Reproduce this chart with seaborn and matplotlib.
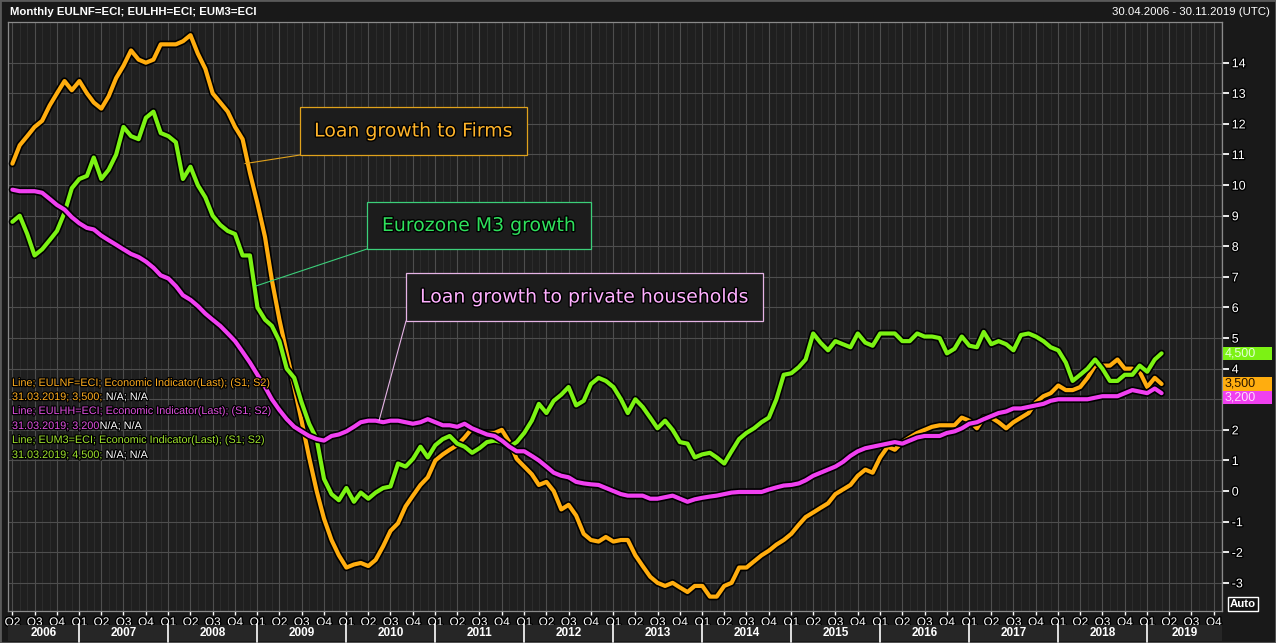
import numpy as np
import pandas as pd
import matplotlib
matplotlib.use("Agg")
import matplotlib.pyplot as plt
import matplotlib.dates as mdates
import matplotlib.patheffects as pe
import matplotlib.transforms as mtransforms
from matplotlib.patches import Rectangle
from matplotlib.lines import Line2D
from matplotlib.ticker import FuncFormatter, FixedLocator
import seaborn as sns

# ---------------------------------------------------------------
# data (monthly, Apr 2006 - Mar 2019)
# ---------------------------------------------------------------
months = pd.date_range("2006-04-01", "2019-03-01", freq="MS")

firms = [10.7, 11.3, 11.6, 11.9, 12.1, 12.6, 13.0, 13.4, 13.1, 13.4, 13.0, 12.7,
         12.5, 12.9, 13.5, 13.9, 14.4, 14.1, 14.0, 14.1, 14.6, 14.6, 14.6, 14.7,
         14.9, 14.3, 13.8, 13.0, 12.7, 12.4, 11.9, 11.5, 10.4, 9.4, 8.3, 6.9,
         5.6, 4.5, 3.4, 2.3, 1.1, 0.0, -0.9, -1.6, -2.1, -2.5, -2.4, -2.35,
         -2.45, -2.25, -1.8, -1.3, -1.05, -0.5, -0.15, 0.2, 0.45, 1.0, 1.2, 1.35,
         1.5, 1.75, 2.05, 1.9, 1.9, 1.9, 2.0, 1.6, 1.05, 0.8, 0.55, 0.2,
         0.3, 0.0, -0.6, -0.45, -0.8, -1.4, -1.6, -1.65, -1.5, -1.65, -1.6, -1.6,
         -2.1, -2.45, -2.8, -3.0, -3.1, -3.0, -3.15, -3.3, -3.1, -3.1, -3.45, -3.45,
         -3.1, -3.0, -2.5, -2.5, -2.3, -2.1, -1.95, -1.75, -1.6, -1.4, -1.1, -0.85,
         -0.7, -0.55, -0.4, -0.1, 0.05, 0.2, 0.5, 0.7, 0.6, 1.1, 1.45, 1.35,
         1.6, 1.75, 1.9, 2.0, 2.1, 2.15, 2.15, 2.15, 2.4, 2.3, 2.05, 2.4,
         2.4, 2.25, 2.05, 2.25, 2.4, 2.55, 2.9, 3.1, 3.2, 3.45, 3.3, 3.3,
         3.4, 3.7, 4.1, 4.1, 4.1, 4.3, 4.0, 4.0, 3.9, 3.4, 3.7, 3.5]

m3 = [8.8, 9.0, 8.4, 7.7, 7.9, 8.2, 8.5, 9.1, 9.9, 10.2, 10.3, 10.9,
      10.2, 10.5, 11.0, 11.9, 11.6, 11.5, 12.2, 12.4, 11.7, 11.6, 11.4, 10.2,
      10.6, 10.0, 9.6, 9.0, 8.7, 8.5, 8.4, 7.7, 7.7, 6.0, 5.6, 5.4,
      4.9, 4.0, 3.7, 2.9, 2.2, 1.7, 0.4, -0.1, -0.3, 0.1, -0.35, -0.05,
      -0.25, -0.05, 0.1, 0.15, 0.9, 0.8, 1.05, 1.45, 1.1, 1.5, 1.7, 1.8,
      1.55, 1.45, 1.25, 1.4, 1.6, 1.65, 1.6, 1.45, 1.6, 1.9, 2.3, 2.85,
      2.55, 2.95, 3.15, 3.4, 2.8, 2.95, 3.5, 3.7, 3.6, 3.4, 3.0, 2.55,
      3.0, 2.75, 2.4, 2.05, 2.3, 2.0, 1.6, 1.55, 1.1, 1.2, 1.25, 1.1,
      0.9, 1.3, 1.7, 1.9, 2.05, 2.25, 2.4, 3.0, 3.8, 3.85, 4.05, 4.3,
      5.15, 4.85, 4.6, 4.9, 4.8, 4.7, 5.15, 4.85, 4.75, 5.15, 5.15, 5.15,
      4.9, 4.9, 5.15, 5.05, 5.05, 5.0, 4.5, 4.65, 5.05, 4.75, 4.7, 5.2,
      4.8, 4.9, 4.8, 4.6, 5.1, 5.15, 5.05, 4.9, 4.7, 4.6, 4.2, 3.6,
      3.8, 4.0, 4.3, 4.0, 3.6, 3.6, 3.8, 3.8, 4.1, 3.9, 4.3, 4.5]

households = [9.85, 9.8, 9.8, 9.8, 9.75, 9.55, 9.35, 9.2, 8.95, 8.75, 8.6, 8.55,
              8.35, 8.2, 8.05, 7.9, 7.75, 7.65, 7.5, 7.3, 7.05, 6.95, 6.7, 6.4,
              6.25, 6.05, 5.8, 5.6, 5.4, 5.15, 4.9, 4.55, 4.2, 3.8, 3.4, 3.0,
              2.65, 2.35, 2.1, 1.95, 1.8, 1.7, 1.65, 1.8, 1.85, 1.95, 2.1, 2.25,
              2.3, 2.3, 2.25, 2.3, 2.3, 2.25, 2.2, 2.25, 2.35, 2.25, 2.15, 2.15,
              2.1, 2.2, 2.05, 1.95, 1.85, 1.8, 1.65, 1.45, 1.3, 1.3, 1.15, 1.0,
              0.8, 0.6, 0.5, 0.45, 0.3, 0.25, 0.22, 0.2, 0.1, 0.0, -0.1, -0.15,
              -0.15, -0.15, -0.25, -0.25, -0.2, -0.15, -0.25, -0.35, -0.27, -0.22, -0.18, -0.15,
              -0.1, -0.05, -0.03, -0.03, -0.03, -0.03, 0.05, 0.12, 0.18, 0.2, 0.25, 0.35,
              0.5, 0.6, 0.7, 0.8, 0.95, 1.15, 1.3, 1.4, 1.45, 1.5, 1.55, 1.6,
              1.55, 1.65, 1.75, 1.8, 1.8, 1.8, 1.9, 1.95, 2.05, 2.2, 2.25, 2.35,
              2.45, 2.55, 2.6, 2.7, 2.7, 2.75, 2.8, 2.85, 2.95, 3.0, 3.0, 3.0,
              3.0, 3.0, 3.05, 3.1, 3.1, 3.1, 3.2, 3.3, 3.25, 3.2, 3.35, 3.2]

series_names = ["EULNF=ECI", "EUM3=ECI", "EULHH=ECI"]
colors = {"EULNF=ECI": "#ffad0f", "EULHH=ECI": "#f040f0", "EUM3=ECI": "#7cf214"}

df = pd.concat([
    pd.DataFrame({"date": months, "value": firms, "series": "EULNF=ECI"}),
    pd.DataFrame({"date": months, "value": m3, "series": "EUM3=ECI"}),
    pd.DataFrame({"date": months, "value": households, "series": "EULHH=ECI"}),
])

# ---------------------------------------------------------------
# figure
# ---------------------------------------------------------------
W, H = 1276, 643
sns.set_theme(style="dark")
plt.rcParams["font.family"] = ["DejaVu Sans"]

fig = plt.figure(figsize=(W / 100, H / 100), dpi=100, facecolor="#191919")
ax = fig.add_axes([8 / W, 1 - 611 / H, (1222 - 8) / W, (611 - 22) / H])
ax.set_facecolor("#1f1f1f")

def fx(x):
    return x / W

def fy(y):
    return 1 - y / H

sns.lineplot(data=df, x="date", y="value", hue="series", hue_order=series_names,
             palette=colors, linewidth=3.0, legend=False, ax=ax, zorder=3)
for ln in ax.lines:
    ln.set_path_effects([pe.Stroke(linewidth=5.4, foreground="#000000"), pe.Normal()])

x0 = mdates.date2num(pd.Timestamp("2006-03-14"))
x1 = mdates.date2num(pd.Timestamp("2019-11-04"))
ax.set_xlim(x0, x1)
ax.set_ylim(-3.92, 15.33)

# grid
ax.xaxis.set_major_locator(mdates.MonthLocator(bymonth=[1, 4, 7, 10]))
ax.xaxis.set_minor_locator(mdates.MonthLocator())
ax.xaxis.set_major_formatter(FuncFormatter(
    lambda v, p: "Q%d" % ((mdates.num2date(v).month - 1) // 3 + 1)))
ax.yaxis.set_major_locator(FixedLocator(list(range(-3, 15))))
ax.yaxis.set_major_formatter(FuncFormatter(lambda v, p: "" if int(round(v)) == 3 else "%d" % v))
ax.grid(which="major", axis="both", color="#4e4e4e", linewidth=0.8)
ax.grid(which="minor", axis="x", color="#2f2f2f", linewidth=0.6)
ax.set_axisbelow(True)
ax.set_xlabel("")
ax.set_ylabel("")

ax.yaxis.tick_right()
ax.tick_params(axis="y", which="major", colors="white", labelcolor="white", length=5,
               width=1.3, pad=2, labelsize=9, right=True, left=False)
ax.tick_params(axis="x", which="major", colors="white", labelcolor="white", length=3,
               width=1, pad=1, labelsize=8.5, bottom=True)
ax.tick_params(axis="x", which="minor", length=0)
for lab in ax.get_yticklabels() + ax.get_xticklabels():
    lab.set_family("Liberation Sans")
    lab.set_path_effects([pe.withStroke(linewidth=2, foreground="black")])
for sp in ax.spines.values():
    sp.set_color("#8a8a8a")
    sp.set_linewidth(0.9)

# year row under the quarter labels
btrans = mtransforms.blended_transform_factory(ax.transData, fig.transFigure)
for yr in range(2006, 2020):
    a = max(mdates.date2num(pd.Timestamp(f"{yr}-01-01")), x0)
    b = min(mdates.date2num(pd.Timestamp(f"{yr + 1}-01-01")), x1)
    fig.add_artist(Rectangle((a, fy(641)), b - a, (641 - 625) / H, transform=btrans,
                             facecolor="#262626", edgecolor="none", zorder=1))
    fig.text((a + b) / 2, fy(633), str(yr), transform=btrans, color="white", fontsize=8.5,
             fontweight="bold", ha="center", va="center", family="Liberation Sans")
    if yr > 2006:
        fig.add_artist(Line2D([a, a], [fy(624), fy(642)], transform=btrans, color="white",
                              linewidth=1.2))

# header
fig.text(fx(10), fy(12), "Monthly EULNF=ECI; EULHH=ECI; EUM3=ECI", color="white",
         fontsize=8.2, fontweight="bold", ha="left", va="center", family="Liberation Sans")
fig.text(fx(1270), fy(12), "30.04.2006 - 30.11.2019 (UTC)", color="white",
         fontsize=8.2, ha="right", va="center", family="Liberation Sans")
fig.add_artist(Rectangle((0, 0), 1, 1, transform=fig.transFigure, facecolor="none",
                         edgecolor="#5a5a5a", linewidth=2))

# last value badges on the right axis
badge_h = 0.43
last_firms, last_m3, last_hh = firms[-1], m3[-1], households[-1]
badges = [
    (last_m3, colors["EUM3=ECI"], "#e4ffd8"),
    (last_firms, colors["EULNF=ECI"], "#2a1600"),
    (min(last_hh, last_firms - badge_h), colors["EULHH=ECI"], "#ffd8ff"),
]
vals = [last_m3, last_firms, last_hh]
rtrans = mtransforms.blended_transform_factory(fig.transFigure, ax.transData)
for (yc, bg, fg), v in zip(badges, vals):
    fig.add_artist(Rectangle((fx(1223), yc - badge_h / 2), fx(1272) - fx(1223), badge_h,
                             transform=rtrans, facecolor=bg, edgecolor="none", zorder=5))
    fig.text(fx(1225), yc, ("%.3f" % v).replace(".", ","), transform=rtrans, color=fg,
             fontsize=9, ha="left", va="center", family="Liberation Sans", zorder=6)

# "Auto" button
fig.text(fx(1243), fy(604), "Auto", color="white", fontsize=8.2, fontweight="bold",
         ha="center", va="center", family="Liberation Sans",
         bbox=dict(boxstyle="square,pad=0.15", facecolor="#111111", edgecolor="white", lw=1))

# series info text on the left
renderer = fig.canvas.get_renderer()
info_rows = [
    (383, [("Line; EULNF=ECI; Economic Indicator(Last); (S1; S2)", "#ffad1f")]),
    (397, [("31.03.2019; 3,500; ", "#ffad1f"), ("N/A; N/A", "white")]),
    (411, [("Line; EULHH=ECI; Economic Indicator(Last); (S1; S2)", "#e050e0")]),
    (426, [("31.03.2019; 3,200", "#e050e0"), ("N/A; N/A", "white")]),
    (440, [("Line; EUM3=ECI; Economic Indicator(Last); (S1; S2)", "#9ee22c")]),
    (455, [("31.03.2019; 4,500; ", "#9ee22c"), ("N/A; N/A", "white")]),
]
for ypx, parts in info_rows:
    xpx = 12
    for s, c in parts:
        t = fig.text(fx(xpx), fy(ypx), s, color=c, fontsize=7.8, ha="left", va="center",
                     family="Liberation Sans", zorder=7)
        t.set_path_effects([pe.withStroke(linewidth=1.8, foreground="#000000")])
        xpx += t.get_window_extent(renderer=renderer).width

# labelled boxes with leader lines
boxes = [
    ("Loan growth to Firms", (300, 107, 527, 155), "#e0a21c", "#ffb42a",
     ("2008-11-10", 10.7)),
    ("Eurozone M3 growth", (367, 202, 591, 249), "#3ccf7a", "#2fe05c",
     ("2008-12-25", 6.7)),
    ("Loan growth to private households", (406, 273, 763, 321), "#e6b4e6", "#ffb0ff",
     ("2010-05-15", 2.3)),
]
for label, (bx0, by0, bx1, by1), ec, tc, (adate, aval) in boxes:
    fig.add_artist(Rectangle((fx(bx0), fy(by1)), fx(bx1) - fx(bx0), fy(by0) - fy(by1),
                             transform=fig.transFigure, facecolor="#1c1c1c",
                             edgecolor=ec, linewidth=0.9, zorder=8))
    fig.text(fx((bx0 + bx1) / 2), fy((by0 + by1) / 2), label, color=tc, fontsize=13.6,
             ha="center", va="center", zorder=9,
             path_effects=[pe.withStroke(linewidth=2, foreground="#000000")])
    ax.annotate("", xy=(mdates.date2num(pd.Timestamp(adate)), aval), xycoords="data",
                xytext=(fx(bx0), fy(by1)), textcoords="figure fraction",
                arrowprops=dict(arrowstyle="-", color=ec, lw=0.8, shrinkA=0, shrinkB=0),
                zorder=4)

fig.savefig("out.png", dpi=100, facecolor=fig.get_facecolor())
